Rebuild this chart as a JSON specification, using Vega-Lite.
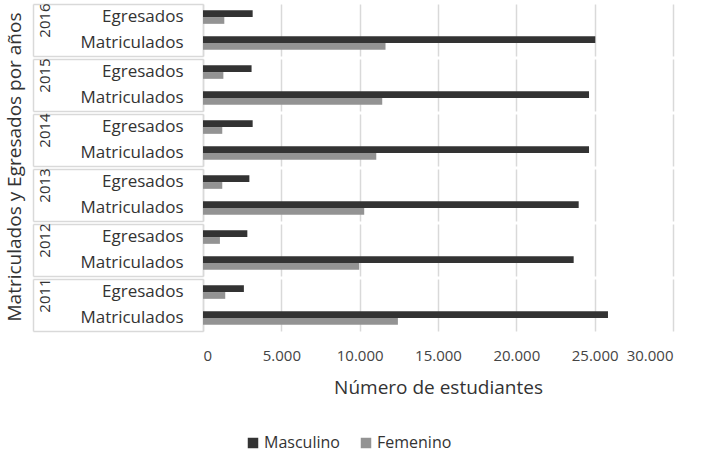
{
  "$schema": "https://vega.github.io/schema/vega-lite/v6.json",
  "padding": {"left": 5, "top": 2, "right": 5, "bottom": 5},
  "spacing": 0,
  "data": {"values": [
    {"year": 2016, "cat": "Egresados", "sex": "Masculino", "value": 3170},
    {"year": 2016, "cat": "Egresados", "sex": "Femenino", "value": 1360},
    {"year": 2016, "cat": "Matriculados", "sex": "Masculino", "value": 25040},
    {"year": 2016, "cat": "Matriculados", "sex": "Femenino", "value": 11650},
    {"year": 2015, "cat": "Egresados", "sex": "Masculino", "value": 3100},
    {"year": 2015, "cat": "Egresados", "sex": "Femenino", "value": 1300},
    {"year": 2015, "cat": "Matriculados", "sex": "Masculino", "value": 24640},
    {"year": 2015, "cat": "Matriculados", "sex": "Femenino", "value": 11440},
    {"year": 2014, "cat": "Egresados", "sex": "Masculino", "value": 3170},
    {"year": 2014, "cat": "Egresados", "sex": "Femenino", "value": 1230},
    {"year": 2014, "cat": "Matriculados", "sex": "Masculino", "value": 24640},
    {"year": 2014, "cat": "Matriculados", "sex": "Femenino", "value": 11060},
    {"year": 2013, "cat": "Egresados", "sex": "Masculino", "value": 2960},
    {"year": 2013, "cat": "Egresados", "sex": "Femenino", "value": 1230},
    {"year": 2013, "cat": "Matriculados", "sex": "Masculino", "value": 23980},
    {"year": 2013, "cat": "Matriculados", "sex": "Femenino", "value": 10290},
    {"year": 2012, "cat": "Egresados", "sex": "Masculino", "value": 2830},
    {"year": 2012, "cat": "Egresados", "sex": "Femenino", "value": 1080},
    {"year": 2012, "cat": "Matriculados", "sex": "Masculino", "value": 23660},
    {"year": 2012, "cat": "Matriculados", "sex": "Femenino", "value": 9970},
    {"year": 2011, "cat": "Egresados", "sex": "Masculino", "value": 2610},
    {"year": 2011, "cat": "Egresados", "sex": "Femenino", "value": 1420},
    {"year": 2011, "cat": "Matriculados", "sex": "Masculino", "value": 25850},
    {"year": 2011, "cat": "Matriculados", "sex": "Femenino", "value": 12440}
  ]},
  "facet": {
    "row": {
      "field": "year", "type": "ordinal", "sort": "descending",
      "title": "Matriculados y Egresados por años",
      "header": {
        "labels": false,
        "titleOrient": "left", "titleFont": "Open Sans", "titleFontSize": 19, "titleFontWeight": "normal",
        "titleColor": "#333333", "titlePadding": -3
      }
    }
  },
  "resolve": {"scale": {"y": "independent"}},
  "spec": {
    "width": 470,
    "height": 52,
    "layer": [
      {
        "mark": {"type": "bar"},
        "encoding": {
          "y": {
            "field": "cat", "type": "nominal", "sort": ["Egresados", "Matriculados"],
            "scale": {"paddingInner": 0.48, "paddingOuter": 0.24},
            "axis": {"title": null, "orient": "left", "labelFont": "Open Sans", "labelFontSize": 17, "labelColor": "#333333",
                     "ticks": false, "labelPadding": 20, "domainColor": "#d9d9d9", "domainWidth": 1.5}
          },
          "yOffset": {"field": "sex", "type": "nominal", "sort": ["Masculino", "Femenino"],
                      "scale": {"range": [0, 13.6], "paddingInner": 0, "paddingOuter": 0}},
          "x": {
            "field": "value", "type": "quantitative",
            "scale": {"domain": [0, 30000], "nice": false},
            "axis": {
              "title": "Número de estudiantes", "titleFont": "Open Sans", "titleFontSize": 19, "titleFontWeight": "normal",
              "titleColor": "#333333", "titlePadding": 15,
              "values": [0, 5000, 10000, 15000, 20000, 25000, 30000],
              "labelExpr": "replace(format(datum.value, ','), ',', '.')",
              "labelFont": "Open Sans", "labelFontSize": 15, "labelColor": "#444444", "labelPadding": 16,
              "domain": false, "ticks": false, "grid": true, "gridColor": "#d9d9d9", "gridWidth": 1.5
            }
          },
          "color": {
            "field": "sex", "type": "nominal", "sort": ["Masculino", "Femenino"],
            "scale": {"domain": ["Masculino", "Femenino"], "range": ["#333333", "#939393"]},
            "legend": {
              "title": null, "orient": "none", "legendX": 42, "legendY": 431, "direction": "horizontal", "symbolType": "square",
              "symbolSize": 110, "labelFont": "Open Sans", "labelFontSize": 16, "labelColor": "#333333",
              "columnPadding": 18, "labelOffset": 3
            }
          }
        }
      },
      {
        "mark": {"type": "point", "opacity": 0},
        "encoding": {
          "y": {
            "field": "year", "type": "ordinal",
            "scale": {"paddingInner": 0, "paddingOuter": 0},
            "axis": {
              "title": null, "orient": "left", "offset": 170,
              "domain": true, "domainColor": "#d9d9d9", "domainWidth": 1.5,
              "ticks": true, "tickBand": "extent", "tickSize": -170, "tickColor": "#d9d9d9", "tickWidth": 1.5,
              "labelAngle": -90, "labelAlign": "center", "labelBaseline": "middle", "labelOffset": -10,
              "labelFont": "Open Sans", "labelFontSize": 15, "labelColor": "#333333", "labelPadding": 159
            }
          }
        }
      }
    ],
    "resolve": {"scale": {"y": "independent"}}
  },
  "config": {
    "view": {"stroke": null}
  }
}
